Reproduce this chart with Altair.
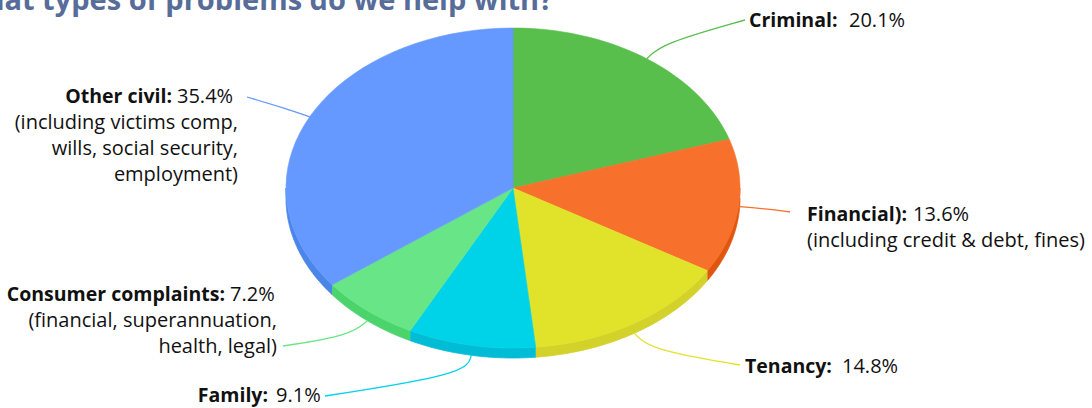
import altair as alt
import pandas as pd

# ---- data ----
categories = ["Criminal", "Financial", "Tenancy", "Family", "Consumer complaints", "Other civil"]
values = [20.1, 13.6, 14.8, 9.1, 7.2, 35.4]
top_colors = ["#58be4c", "#f7702c", "#e1e32b", "#00d3e7", "#68e687", "#6699ff"]
side_colors = ["#47a83c", "#e0560f", "#d2d22a", "#00bdd5", "#4bd36c", "#4a86e8"]

bold_parts = ["Criminal:", "Financial):", "Tenancy:", "Family:", "Consumer complaints:", "Other civil:"]
pct_parts = ["20.1%", "13.6%", "14.8%", "9.1%", "7.2%", "35.4%"]
extra_lines = [
    [],
    ["(including credit & debt, fines)"],
    [],
    [],
    ["(financial, superannuation,", "health, legal)"],
    ["(including victims comp,", "wills, social security,", "employment)"],
]
title_text = "What types of problems do we help with?"

# ---- layout (pixels) ----
W, H = 1092, 408
CX, CY, RX, RY, DEPTH = 513, 188, 227, 160, 10
# bold anchor x (left edge for right-side labels, right edge for left-side labels), regular start x
label_bold_x = [749, 807, 745, 268, 225, 172]
label_reg_x = [849, 913, 842, 276, 230, 177]
label_y = [21, 215, 367, 396, 295, 97]
label_side = ["R", "R", "R", "L", "L", "L"]
extra_x = [None, 807, None, None, 277, 238]
leader_end = [(745, 20), (790, 212), (740, 365), (325, 396), (283, 346), (247, 97)]
LINE_H = 26
FONT = "Open Sans"
FS = 20
FS_BOLD = 19.5

df = pd.DataFrame({
    "idx": list(range(len(categories))),
    "cat": categories,
    "value": values,
    "top": top_colors,
    "side": side_colors,
    "ex": [p[0] for p in leader_end],
    "ey": [p[1] for p in leader_end],
})

xs = alt.Scale(domain=[0, W], range=[0, W], nice=False, zero=False)
ys = alt.Scale(domain=[0, H], range=[0, H], nice=False, zero=False)

base = alt.Chart(df).transform_window(
    cum="sum(value)", sort=[alt.SortField("idx")], frame=[None, 0]
).transform_joinaggregate(
    total="sum(value)"
).transform_calculate(
    a0="2*PI*(datum.cum - datum.value)/datum.total",
    a1="2*PI*datum.cum/datum.total",
)

N = 40
# side faces (3-D rim)
side = base.transform_calculate(
    s0="max(datum.a0, PI/2)", s1="min(datum.a1, 3*PI/2)"
).transform_filter("datum.s1 > datum.s0").transform_calculate(
    pts=f"sequence(0, {2*N+2})"
).transform_flatten(["pts"], as_=["k"]).transform_calculate(
    t=f"datum.k <= {N} ? datum.s0 + (datum.s1-datum.s0)*datum.k/{N} : datum.s1 - (datum.s1-datum.s0)*(datum.k-{N+1})/{N}",
).transform_calculate(
    px=f"{CX} + {RX}*sin(datum.t)",
    py=f"{CY} - {RY}*cos(datum.t) + (datum.k <= {N} ? 0 : {DEPTH})",
).mark_line(strokeWidth=0.8).encode(
    x=alt.X("px:Q", scale=xs, axis=None),
    y=alt.Y("py:Q", scale=ys, axis=None),
    fill=alt.Fill("side:N", scale=None),
    stroke=alt.Stroke("side:N", scale=None),
    detail="cat:N",
    order=alt.Order("k:Q"),
)

top = base.transform_calculate(
    pts=f"sequence(0, {N+3})"
).transform_flatten(["pts"], as_=["k"]).transform_calculate(
    t=f"datum.a0 + (datum.a1-datum.a0)*clamp((datum.k-1)/{N}, 0, 1)",
    c=f"datum.k == 0 || datum.k == {N+2}",
).transform_calculate(
    px=f"datum.c ? {CX} : {CX} + {RX}*sin(datum.t)",
    py=f"datum.c ? {CY} : {CY} - {RY}*cos(datum.t)",
).mark_line(strokeWidth=0.6).encode(
    x=alt.X("px:Q", scale=xs, axis=None),
    y=alt.Y("py:Q", scale=ys, axis=None),
    fill=alt.Fill("top:N", scale=None),
    stroke=alt.Stroke("top:N", scale=None),
    detail="cat:N",
    order=alt.Order("k:Q"),
)

leaders = base.transform_calculate(
    mid="(datum.a0 + datum.a1)/2"
).transform_calculate(
    dep=f"cos(datum.mid) < -0.3 ? {DEPTH} : 0",
    pts="sequence(0, 3)",
).transform_flatten(["pts"], as_=["k"]).transform_calculate(
    px=f"datum.k == 0 ? {CX} + {RX}*sin(datum.mid) : (datum.k == 1 ? {CX} + 1.12*{RX}*sin(datum.mid) : datum.ex)",
    py=f"datum.k == 0 ? {CY} - {RY}*cos(datum.mid) + datum.dep : (datum.k == 1 ? {CY} - 1.12*{RY}*cos(datum.mid) + datum.dep : datum.ey)",
).mark_line(strokeWidth=1.3, interpolate="basis").encode(
    x=alt.X("px:Q", scale=xs, axis=None),
    y=alt.Y("py:Q", scale=ys, axis=None),
    stroke=alt.Stroke("top:N", scale=None),
    detail="cat:N",
    order=alt.Order("k:Q"),
)

# ---- labels ----
bold_rows, reg_rows = [], []
for i in range(len(categories)):
    bold_rows.append({"x": label_bold_x[i], "y": label_y[i], "text": bold_parts[i],
                      "align": "left" if label_side[i] == "R" else "right"})
    reg_rows.append({"x": label_reg_x[i], "y": label_y[i], "text": pct_parts[i], "align": "left"})
    for j, line in enumerate(extra_lines[i]):
        reg_rows.append({"x": extra_x[i], "y": label_y[i] + LINE_H * (j + 1), "text": line,
                         "align": "left" if label_side[i] == "R" else "right"})

bold_df = pd.DataFrame(bold_rows)
reg_df = pd.DataFrame(reg_rows)


def text_layer(frame, align, bold):
    return alt.Chart(frame).mark_text(
        align=align, baseline="middle", font=FONT,
        fontSize=FS_BOLD if bold else FS,
        fontWeight="bold" if bold else "normal", color="#111111"
    ).encode(
        x=alt.X("x:Q", scale=xs, axis=None), y=alt.Y("y:Q", scale=ys, axis=None), text="text:N"
    )


bold_l = text_layer(bold_df[bold_df["align"] == "left"], "left", True)
bold_r = text_layer(bold_df[bold_df["align"] == "right"], "right", True)
reg_l = text_layer(reg_df[reg_df["align"] == "left"], "left", False)
reg_r = text_layer(reg_df[reg_df["align"] == "right"], "right", False)

title_df = pd.DataFrame({"x": [553], "y": [10], "text": [title_text]})
title = alt.Chart(title_df).mark_text(
    align="right", baseline="alphabetic", font=FONT, fontSize=29, fontWeight="bold", color="#576c98"
).encode(
    x=alt.X("x:Q", scale=xs, axis=None), y=alt.Y("y:Q", scale=ys, axis=None), text="text:N"
)

chart = alt.layer(side, top, leaders, bold_l, bold_r, reg_l, reg_r, title).properties(
    width=W, height=H, padding=0, autosize=alt.AutoSizeParams(type="none"), background="white"
).configure_view(stroke=None)

chart.save("out.html", embed_options={"renderer": "svg", "actions": False})
